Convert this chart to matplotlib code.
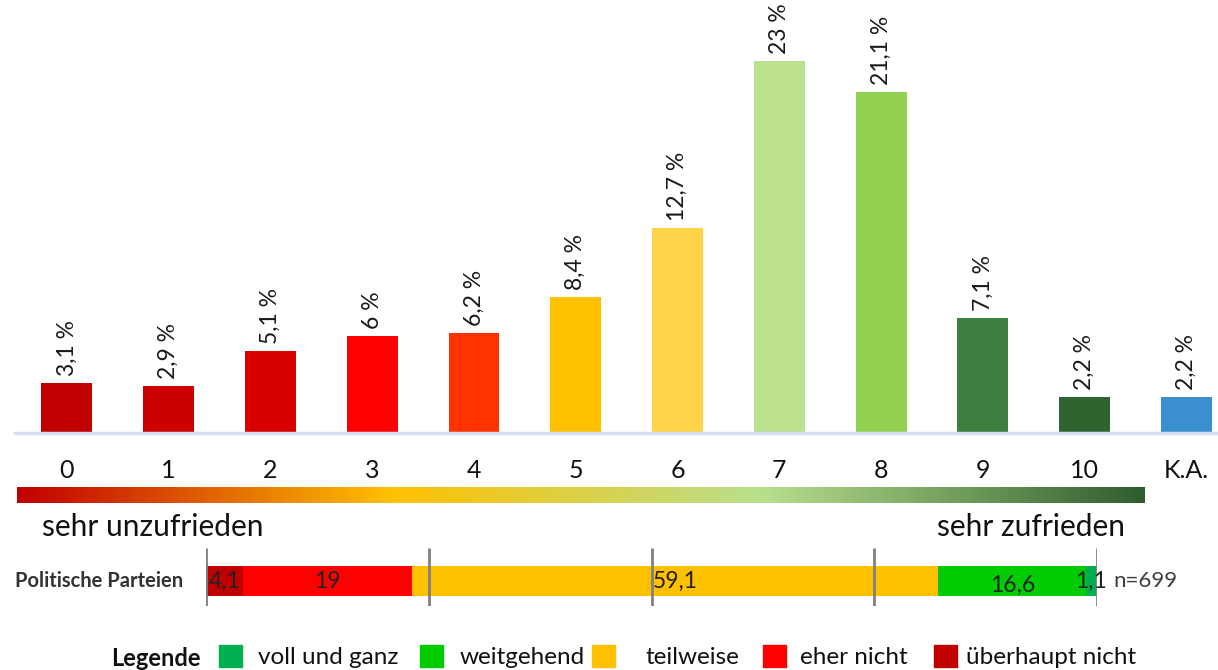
import matplotlib
matplotlib.use("Agg")
import matplotlib.pyplot as plt
import numpy as np
from matplotlib.colors import LinearSegmentedColormap
from matplotlib.patches import Rectangle

plt.rcParams['font.family'] = ['Lato', 'DejaVu Sans']

# data
categories = ["0", "1", "2", "3", "4", "5", "6", "7", "8", "9", "10", "K.A."]
shares = [3.1, 2.9, 5.1, 6, 6.2, 8.4, 12.7, 23, 21.1, 7.1, 2.2, 2.2]
bar_colors = ["#C00000", "#CC0000", "#D90000", "#FF0000", "#FF3300", "#FFC000",
              "#FFD347", "#BBE08E", "#92D050", "#3D7F3F", "#2F6330", "#3A8FD1"]

party_label = "Politische Parteien"
party_values = [4.1, 19, 59.1, 16.6, 1.1]
party_colors = ["#C00000", "#FF0000", "#FFC000", "#00CC00", "#00B050"]
party_n = "n=699"

legend_labels = ["voll und ganz", "weitgehend", "teilweise", "eher nicht", "überhaupt nicht"]
legend_colors = ["#00B050", "#00CC00", "#FFC000", "#FF0000", "#C00000"]

W, H = 1218, 670
fig = plt.figure(figsize=(W / 100, H / 100), dpi=100)


def fx(x):
    return x / W


def fy(y):
    return 1 - y / H


def fmt(v):
    return f"{v:g}".replace(".", ",")


# main bar chart
ax = fig.add_axes([fx(15), fy(433), fx(W - 15), 433 / H])
pos = np.arange(len(categories))
ax.bar(pos, shares, width=0.5, color=bar_colors)
ax.set_xlim(-0.51, 11.31)
ax.set_ylim(0, 433 / 16.17)
for s in ["top", "right", "left"]:
    ax.spines[s].set_visible(False)
ax.spines["bottom"].set_color("#D9DDF2")
ax.spines["bottom"].set_linewidth(2.5)
ax.set_yticks([])
ax.set_xticks([])
for p, v in zip(pos, shares):
    ax.annotate(fmt(v) + " %", (p, v), xytext=(0, 7), textcoords="offset pixels",
                rotation=90, ha="center", va="bottom", fontsize=16.5, color="#1a1a1a")
for p, c in zip(pos, categories):
    ax.text(p, -(470 - 433) / 433, c, transform=ax.get_xaxis_transform(),
            ha="center", va="center", fontsize=18, color="#111111")

# gradient scale
gax = fig.add_axes([fx(17), fy(503), fx(1145 - 17), 16 / H])
cmap = LinearSegmentedColormap.from_list(
    "scale", [(0, "#C00000"), (0.33, "#FFC000"), (0.66, "#B9E08D"), (1, "#2E5E2E")])
gax.imshow(np.linspace(0, 1, 512)[None, :], aspect="auto", cmap=cmap)
gax.axis("off")

fig.text(fx(42), fy(527), "sehr unzufrieden", ha="left", va="center", fontsize=21.5, color="#111111")
fig.text(fx(1125), fy(527), "sehr zufrieden", ha="right", va="center", fontsize=21.5, color="#111111")

# stacked bar
sax = fig.add_axes([fx(206), fy(606), fx(1097 - 206), 58 / H])
sax.set_xlim(0, 100)
sax.set_ylim(0, 1)
left = 0
for v, c in zip(party_values, party_colors):
    sax.barh(0.43, v, left=left, height=30 / 58, color=c)
    yoff = 0.35 if v == 16.6 else 0.43
    sax.text(left + v / 2, yoff, fmt(v), ha="center", va="center", fontsize=16.5, color="#222222")
    left += v
sax.vlines([0, 25, 50, 75, 100], 0, 1, color="#808080", linewidth=2)
sax.axis("off")
fig.text(fx(15), fy(581), party_label, ha="left", va="center", fontsize=14.5,
         fontweight="bold", color="#333333")
fig.text(fx(1113), fy(581), party_n, ha="left", va="center", fontsize=16, color="#404040")

# legend
fig.text(fx(111), fy(658), "Legende", ha="left", va="center", fontsize=17,
         fontweight="bold", color="#111111")
sq_x = [219, 420, 592, 763, 934]
txt_x = [258, 460, 646, 800, 966]
for sx, tx, lab, col in zip(sq_x, txt_x, legend_labels, legend_colors):
    fig.add_artist(Rectangle((fx(sx), fy(667)), 23 / W, 22 / H, transform=fig.transFigure,
                             color=col))
    fig.text(fx(tx), fy(658), lab, ha="left", va="center", fontsize=17.5, color="#111111")

plt.savefig("out.png", dpi=100)
